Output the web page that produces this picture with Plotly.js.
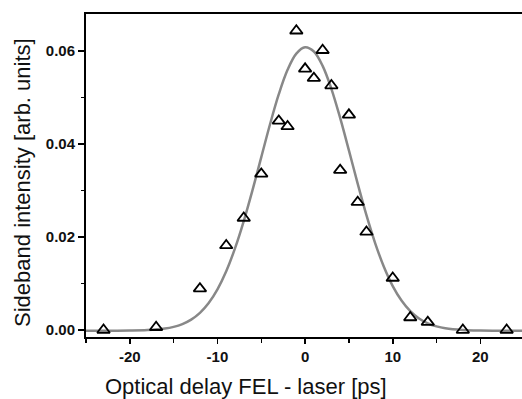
<!DOCTYPE html>
<html>
<head>
<meta charset="utf-8">
<script src="https://cdn.plot.ly/plotly-3.0.1.min.js"></script>
<style>
html, body { margin: 0; padding: 0; background: #fff; overflow: hidden; }
#chart { width: 522px; height: 399px; }
</style>
</head>
<body>
<div id="chart"></div>
<script>
// Measured data points (optical delay in ps, sideband intensity in arb. units)
const delayPs = [-23, -17, -12, -9, -7, -5, -3, -2, -1, 0, 1, 2, 3, 4, 5, 6, 7, 10, 12, 14, 18, 23];
const intensity = [0.0000, 0.0006, 0.0089, 0.0182, 0.0241, 0.0336, 0.0450, 0.0438, 0.0644, 0.0562,
                   0.0542, 0.0602, 0.0526, 0.0344, 0.0463, 0.0275, 0.0211, 0.0112, 0.0027, 0.0017,
                   0.0000, 0.0000];

// Fit curve
const fitX = [-25, -22, -20, -18, -16, -15, -14, -13, -12, -11, -10, -9, -8, -7, -6, -5, -4, -3, -2, -1,
              0, 1, 2, 3, 4, 5, 6, 7, 8, 9, 10, 11, 12, 13, 14, 15, 16, 18, 20, 22, 25];
const fitY = [-0.00015, -0.00014, -0.00012, -0.00002, 0.00031, 0.00068, 0.00129, 0.00225, 0.00371, 0.00583,
              0.00877, 0.01265, 0.01756, 0.02344, 0.03010, 0.03721, 0.04428, 0.05074, 0.05598, 0.05948,
              0.06084, 0.05993, 0.05684, 0.05191, 0.04564, 0.03865, 0.03150, 0.02471, 0.01866, 0.01356,
              0.00946, 0.00635, 0.00408, 0.00250, 0.00145, 0.00078, 0.00037, 0.00000, -0.00012, -0.00014, -0.00015];

const xTickVals = [-20, -10, 0, 10, 20];
const yTickVals = [0.00, 0.02, 0.04, 0.06];

const fontFam = "'Liberation Sans', Arial, Helvetica, sans-serif";

const traces = [
  {
    x: fitX, y: fitY, type: 'scatter', mode: 'lines',
    line: { color: '#888888', width: 2.5, shape: 'spline' },
    hoverinfo: 'skip', showlegend: false
  },
  {
    x: delayPs, y: intensity, type: 'scatter', mode: 'markers',
    marker: { symbol: 'triangle-up-open', size: 11, color: '#000', line: { color: '#000', width: 1.8 } },
    showlegend: false
  }
];

const layout = {
  width: 522, height: 399,
  margin: { l: 86, r: 0, t: 14, b: 62 },
  paper_bgcolor: '#fff', plot_bgcolor: '#fff',
  font: { family: fontFam, color: '#000' },
  xaxis: {
    range: [-25, 24.75],
    tickvals: xTickVals, ticktext: xTickVals.map(String),
    ticks: 'outside', ticklen: 5, tickwidth: 1.6, tickcolor: '#000',
    minor: { dtick: 5, tick0: 0, ticks: 'outside', ticklen: 3.5, tickwidth: 1.4, tickcolor: '#000' },
    showline: true, linecolor: '#000', linewidth: 2, mirror: true,
    showgrid: false, zeroline: false,
    tickfont: { family: fontFam, size: 15, color: '#111', weight: 'bold' }
  },
  yaxis: {
    range: [-0.0015, 0.068],
    tickvals: yTickVals, ticktext: yTickVals.map(v => v.toFixed(2)),
    ticks: 'outside', ticklen: 6, tickwidth: 1.6, tickcolor: '#000',
    minor: { dtick: 0.01, tick0: 0, ticks: 'outside', ticklen: 3.5, tickwidth: 1.4, tickcolor: '#000' },
    showline: true, linecolor: '#000', linewidth: 2, mirror: false,
    showgrid: false, zeroline: false,
    tickfont: { family: fontFam, size: 15, color: '#111', weight: 'bold' }
  },
  annotations: [
    {
      text: 'Optical delay FEL - laser [ps]',
      xref: 'paper', yref: 'paper', x: 0.366, y: -0.152,
      xanchor: 'center', yanchor: 'middle', showarrow: false,
      font: { family: fontFam, size: 22, color: '#111' }
    },
    {
      text: 'Sideband intensity [arb. units]',
      xref: 'paper', yref: 'paper', x: -0.146, y: 0.478,
      xanchor: 'center', yanchor: 'middle', showarrow: false, textangle: -90,
      font: { family: fontFam, size: 22, color: '#111' }
    }
  ]
};

Plotly.newPlot('chart', traces, layout, { displayModeBar: false, staticPlot: true });
</script>
</body>
</html>
